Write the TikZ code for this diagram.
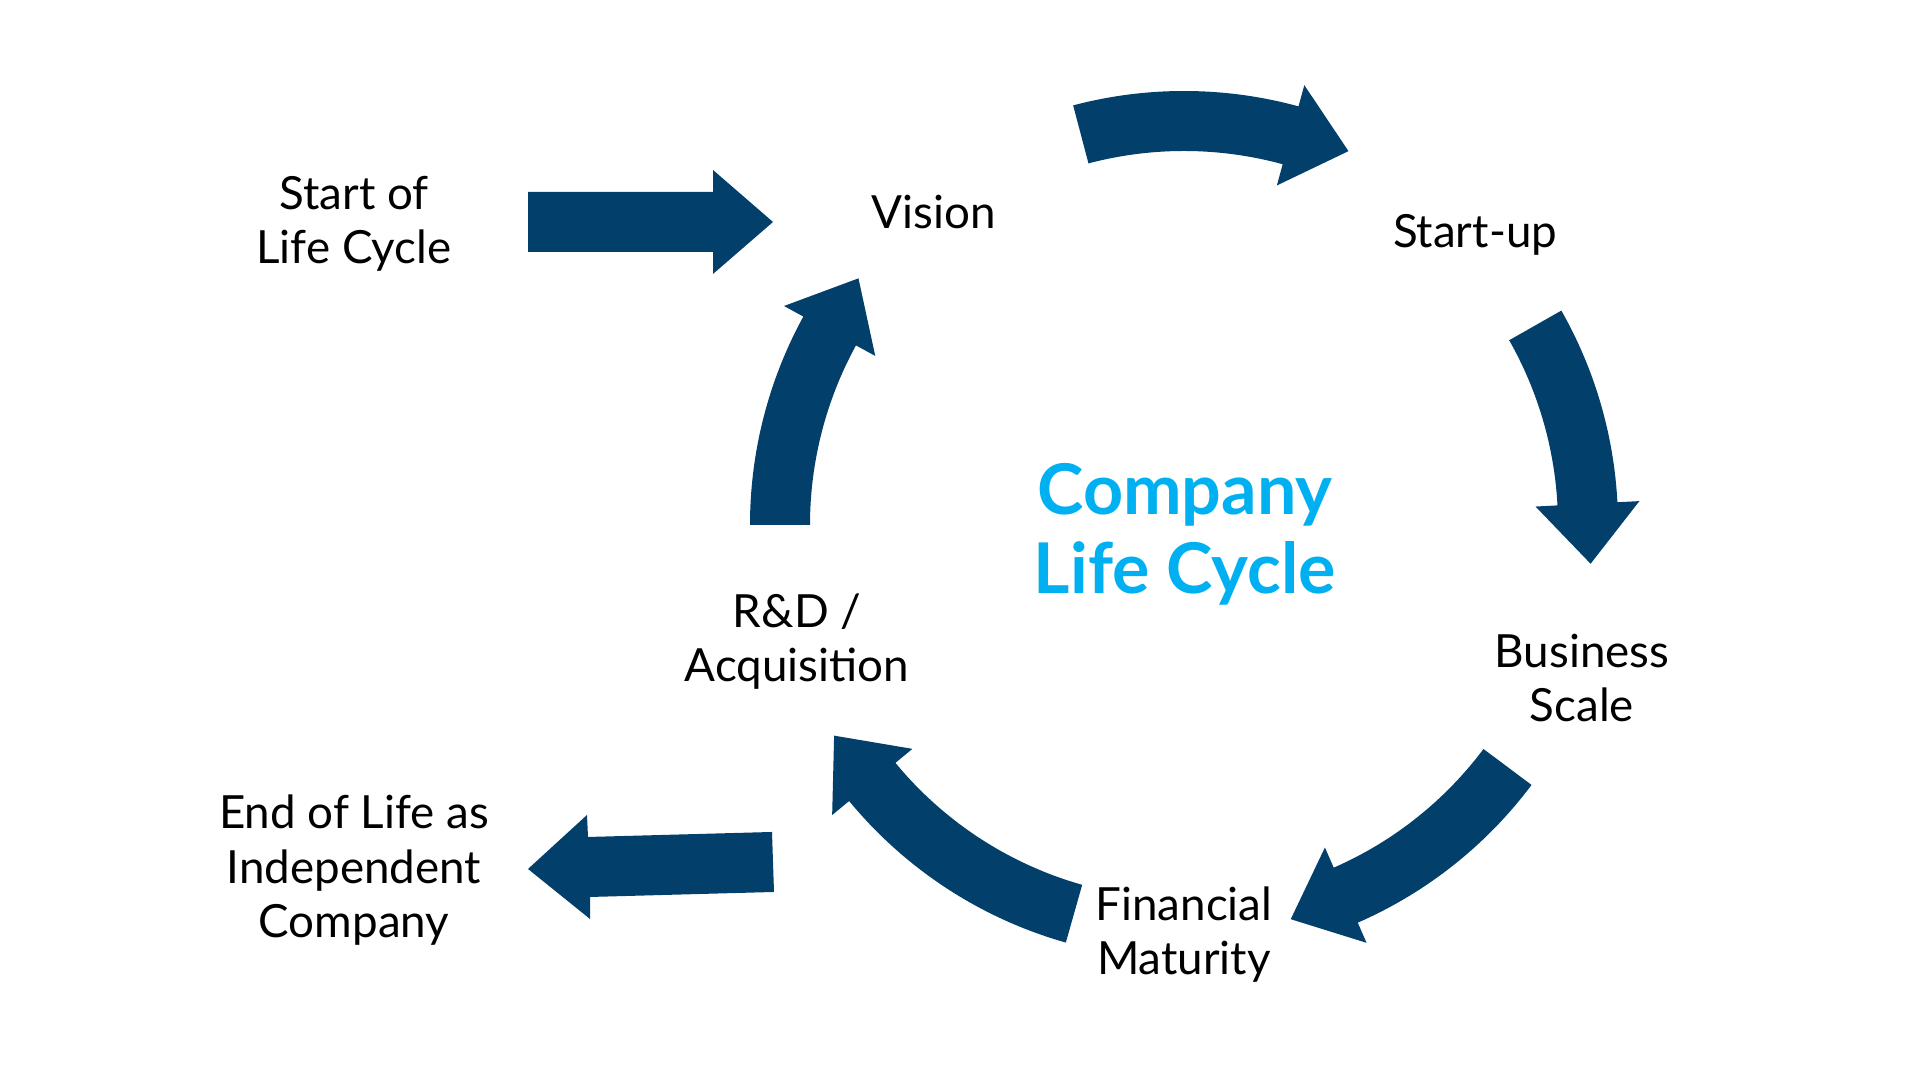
\documentclass[tikz,border=0pt]{standalone}
\usepackage{fontspec}
\setmainfont{Lato}
\usetikzlibrary{calc}
\definecolor{cyclenavy}{RGB}{2,63,107}
\definecolor{cyclecyan}{RGB}{0,176,240}

\begin{document}
\begin{tikzpicture}[x=0.01cm,y=0.01cm]
		\fill[white] (0,0) rectangle (1920,1080);
		\coordinate (hub) at (1184,555);

		% base anchor sits on the last line
		\begin{scope}[every node/.style={align=center,anchor=base,inner sep=0pt,font=\fontsize{13}{15.5}\selectfont}]
			\node (start) at (354,816) {Start of\\Life Cycle};
			\node (vision) at (934,851) {Vision};
			\node (startup) at (1475,832) {Start-up};
			\node (scale) at (1582,358) {Business\\Scale};
			\node (maturity) at (1184,105) {Financial\\Maturity};
			\node (rnd) at (797,398) {R\&D /\\Acquisition};
			\node (end) at (354,142) {End of Life as\\Independent\\Company};
		\end{scope}

		\node (title) [align=center,anchor=base,inner sep=0pt,text=cyclecyan,
			font=\bfseries\fontsize{19.9}{22.6}\selectfont] at (1185,486) {Company\\Life Cycle};

		\begin{scope}[every path/.style={fill=cyclenavy}]
			% straight arrows in and out of the cycle
			\path (528,888) -- (713,888) -- (713,910) -- (773,858) -- (713,806) -- (713,828) -- (528,828) -- cycle;
			\path (772,248) -- (588,243) -- (587,265) -- (528,211) -- (590,161) -- (590,183) -- (774,188) -- cycle;

			% curved arrows round the hub
			\foreach \a/\b in {104.8/74.7, 29.6/3, -36.8/-66.4, -105.8/-140.5, 180/151.3}
				\path ($(hub)+(\a:434)$) arc[start angle=\a, end angle=\b, radius=434]
					-- ($(hub)+(\b:456)$) -- ($(hub)+(\b:404)+(\b-90:60)$) -- ($(hub)+(\b:352)$)
					-- ($(hub)+(\b:374)$) arc[start angle=\b, end angle=\a, radius=374] -- cycle;
		\end{scope}

	\end{tikzpicture}
\end{document}
